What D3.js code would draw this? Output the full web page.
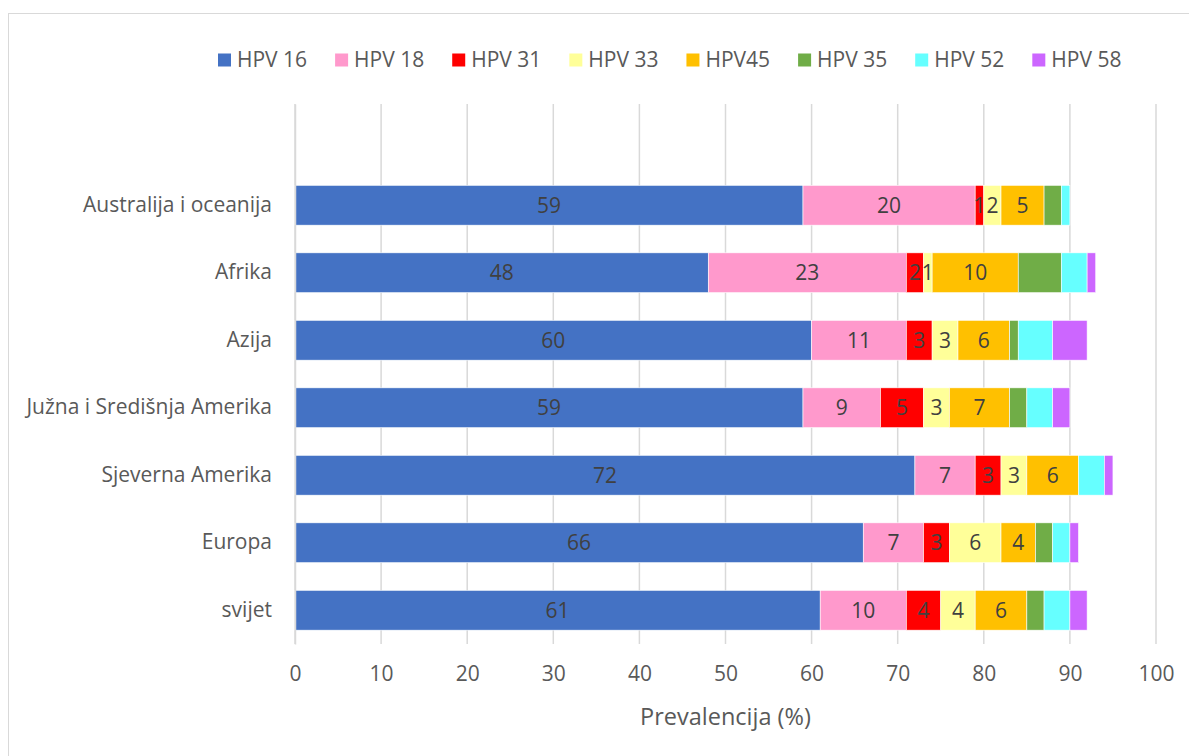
<!DOCTYPE html>
<html>
<head>
<meta charset="utf-8">
<script src="https://cdn.jsdelivr.net/npm/d3@7"></script>
<style>
  body { margin: 0; background: #fff; }
  svg text { font-family: "Open Sans", sans-serif; }
</style>
</head>
<body>
<svg id="chart" width="1189" height="756"></svg>
<script>
'use strict';

// regions, top to bottom
var regions = ['Australija i oceanija', 'Afrika', 'Azija', 'Južna i Središnja Amerika',
  'Sjeverna Amerika', 'Europa', 'svijet'];

// prevalence (%) per HPV type, same order as regions
var hpv16 = [59, 48, 60, 59, 72, 66, 61];
var hpv18 = [20, 23, 11, 9, 7, 7, 10];
var hpv31 = [1, 2, 3, 5, 3, 3, 4];
var hpv33 = [2, 1, 3, 3, 3, 6, 4];
var hpv45 = [5, 10, 6, 7, 6, 4, 6];
var hpv35 = [2, 5, 1, 2, 0, 2, 2];
var hpv52 = [1, 3, 4, 3, 3, 2, 3];
var hpv58 = [0, 1, 4, 2, 1, 1, 2];

var seriesNames = ['HPV 16', 'HPV 18', 'HPV 31', 'HPV 33', 'HPV45', 'HPV 35', 'HPV 52', 'HPV 58'];
var seriesValues = [hpv16, hpv18, hpv31, hpv33, hpv45, hpv35, hpv52, hpv58];
var seriesColors = ['#4472C4', '#FF99CC', '#FF0000', '#FFFF99', '#FFC000', '#70AD47', '#66FFFF', '#CC66FF'];
var labelled = ['HPV 16', 'HPV 18', 'HPV 31', 'HPV 33', 'HPV45'];
var xTicks = [0, 10, 20, 30, 40, 50, 60, 70, 80, 90, 100];

var svg = d3.select('#chart');
var margin = {left: 295, right: 33, top: 104, bottom: 112};
var width = 1189 - margin.left - margin.right;
var height = 756 - margin.top - margin.bottom;
var font = '"Open Sans", sans-serif';

// outer chart border
svg.append('rect')
  .attr('x', 8.5).attr('y', 13.5)
  .attr('width', 1200).attr('height', 800)
  .attr('fill', '#fff').attr('stroke', '#d9d9d9').attr('stroke-width', 1);

var rows = regions.map(function(r, i) {
  var row = {region: r};
  seriesNames.forEach(function(s, j) { row[s] = seriesValues[j][i]; });
  return row;
});

var x = d3.scaleLinear().domain([0, 100]).range([0, width]);
// an empty slot sits above the first region, as in the original
var y = d3.scaleBand().domain([''].concat(regions)).range([0, height]).paddingInner(0.41).paddingOuter(0.205);

var g = svg.append('g').attr('transform', 'translate(' + margin.left + ',' + margin.top + ')');

// gridlines
g.append('g').selectAll('line').data(xTicks).enter().append('line')
  .attr('x1', function(d) { return x(d); }).attr('x2', function(d) { return x(d); })
  .attr('y1', 0).attr('y2', height)
  .attr('stroke', '#d9d9d9').attr('stroke-width', 1.5);

var stack = d3.stack().keys(seriesNames);
var layers = stack(rows);

var layer = g.selectAll('g.layer').data(layers).enter().append('g')
  .attr('class', 'layer')
  .attr('fill', function(d, i) { return seriesColors[i]; });

layer.selectAll('rect').data(function(d) { return d; }).enter().append('rect')
  .attr('x', function(d) { return x(d[0]); })
  .attr('y', function(d) { return y(d.data.region); })
  .attr('width', function(d) { return x(d[1]) - x(d[0]); })
  .attr('height', y.bandwidth())
  .attr('stroke', '#fff').attr('stroke-width', 0.6);

// data labels
layers.forEach(function(l) {
  if (labelled.indexOf(l.key) < 0) return;
  g.append('g').selectAll('text').data(l).enter().append('text')
    .attr('x', function(d) { return x((d[0] + d[1]) / 2); })
    .attr('y', function(d) { return y(d.data.region) + y.bandwidth() / 2; })
    .attr('dy', '0.35em')
    .attr('text-anchor', 'middle')
    .attr('font-size', 21)
    .attr('fill', '#404040')
    .text(function(d) { return d[1] - d[0]; });
});

// x axis
var xAxis = g.append('g').attr('transform', 'translate(0,' + height + ')')
  .call(d3.axisBottom(x).tickValues(xTicks).tickSize(0).tickPadding(22));
xAxis.select('.domain').remove();
xAxis.selectAll('text').attr('font-size', 21).attr('fill', '#595959')
  .style('font-family', font);

// y axis
var yAxis = g.append('g')
  .call(d3.axisLeft(y).tickSize(0).tickPadding(23));
yAxis.select('.domain').attr('stroke', '#d9d9d9').attr('stroke-width', 1.5);
yAxis.selectAll('text').attr('font-size', 21).attr('fill', '#595959')
  .style('font-family', font);

// axis title
svg.append('text')
  .attr('x', margin.left + width / 2).attr('y', 725)
  .attr('text-anchor', 'middle')
  .attr('font-size', 23.5).attr('fill', '#595959')
  .text('Prevalencija (%)');

// legend
var legend = svg.append('g');
var lx = 218;
seriesNames.forEach(function(s, i) {
  var item = legend.append('g').attr('transform', 'translate(' + lx + ',60)');
  item.append('rect').attr('x', 0).attr('y', -6.5).attr('width', 13).attr('height', 13)
    .attr('fill', seriesColors[i]);
  var t = item.append('text').attr('x', 19).attr('dy', '0.35em')
    .attr('font-size', 21).attr('fill', '#595959').text(s);
  lx += 19 + t.node().getComputedTextLength() + 28;
});
</script>
</body>
</html>
